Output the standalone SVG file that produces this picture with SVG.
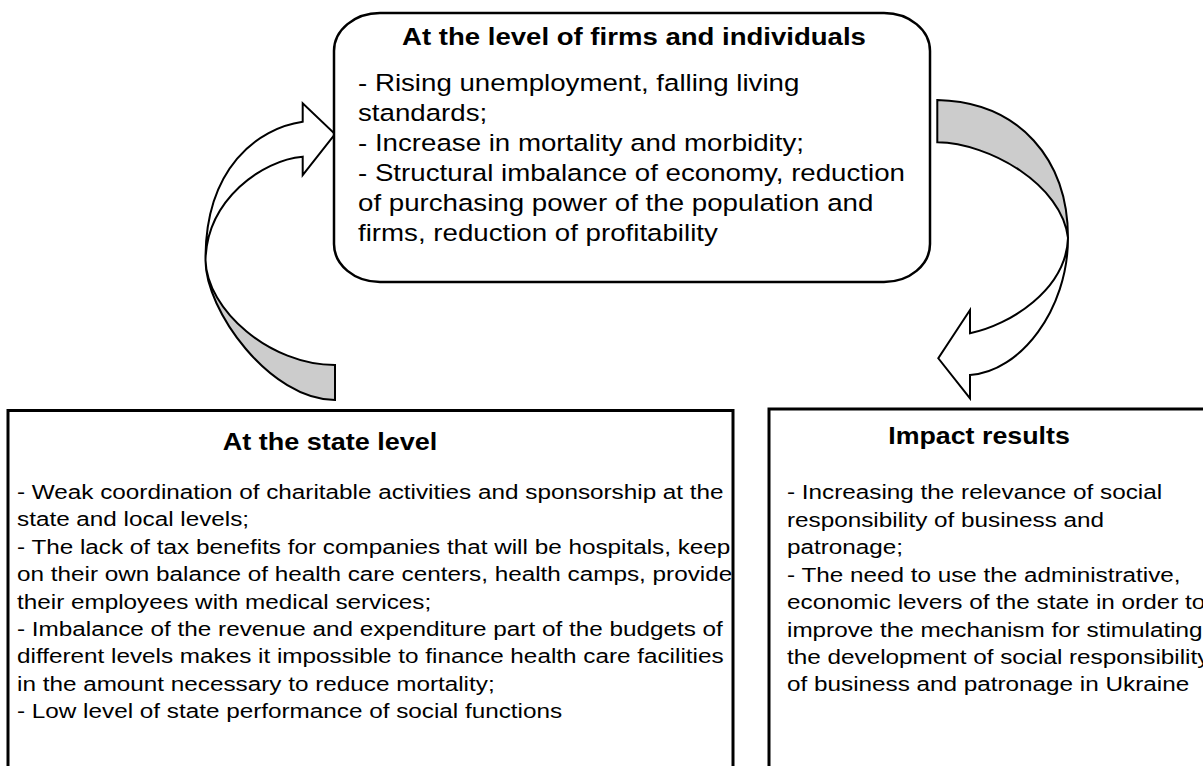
<svg xmlns="http://www.w3.org/2000/svg" width="1203" height="766" viewBox="0 0 1203 766">
<style>
.box{fill:#fff;stroke:#000;}
.t{font-family:"Liberation Sans",Arial,sans-serif;fill:#000;}
.b{font-weight:bold;}
.aw{fill:#fff;stroke:#000;stroke-width:2;stroke-linejoin:miter;}
.ag{fill:#cccccc;stroke:#000;stroke-width:2;stroke-linejoin:miter;}
</style>
<rect width="1203" height="766" fill="#fff"/>
<g id="connectors">
  <g id="arrow-state-to-firms">
    <path class="ag" d="M205.5,260 C205,310 270,400 335,400 L335,365 C270,365 206.7,310 205.5,260 Z"/>
    <path class="aw" d="M302.7,121.7 C258,128 205,168 205.5,260 C207,200 262,160 302.7,156.7 L302.7,175 L335,134 L302.7,103.3 Z"/>
  </g>
  <g id="arrow-firms-to-impact">
    <path class="ag" d="M937.3,100 C1020,102 1068,160 1068,238 C1062,185 990,143 937.3,142.3 Z"/>
    <path class="aw" d="M1068,238 C1068,310 1020,372 970,375 L970,398.3 L938.3,358.3 L970,310 L970,333.3 C1010,325 1066,290 1068,238 Z"/>
  </g>
</g>
<g id="node-firms">
  <rect class="box" x="334" y="13" width="596" height="269" rx="46" ry="38" stroke-width="2.5"/>
  <g transform="translate(634,45) scale(1.125,1)"><text class="t b" x="0" y="0" font-size="24.5" text-anchor="middle">At the level of firms and individuals</text></g>
  <g transform="translate(358,0) scale(1.13,1)">
    <text class="t" font-size="24.5">
      <tspan x="0" y="91.5">- Rising unemployment, falling living</tspan>
      <tspan x="0" y="121.5">standards;</tspan>
      <tspan x="0" y="151.5">- Increase in mortality and morbidity;</tspan>
      <tspan x="0" y="181.5">- Structural imbalance of economy, reduction</tspan>
      <tspan x="0" y="211.5">of purchasing power of the population and</tspan>
      <tspan x="0" y="241.5">firms, reduction of profitability</tspan>
    </text>
  </g>
</g>
<g id="node-state">
  <rect class="box" x="8" y="410.5" width="725" height="380" stroke-width="3"/>
  <g transform="translate(330,450) scale(1.15,1)"><text class="t b" x="0" y="0" font-size="23.5" text-anchor="middle">At the state level</text></g>
  <g transform="translate(17,0) scale(1.157,1)">
    <text class="t" font-size="21">
      <tspan x="0" y="499">- Weak coordination of charitable activities and sponsorship at the</tspan>
      <tspan x="0" y="526.4">state and local levels;</tspan>
      <tspan x="0" y="553.8">- The lack of tax benefits for companies that will be hospitals, keep</tspan>
      <tspan x="0" y="581.2">on their own balance of health care centers, health camps, provide</tspan>
      <tspan x="0" y="608.6">their employees with medical services;</tspan>
      <tspan x="0" y="636">- Imbalance of the revenue and expenditure part of the budgets of</tspan>
      <tspan x="0" y="663.4">different levels makes it impossible to finance health care facilities</tspan>
      <tspan x="0" y="690.8">in the amount necessary to reduce mortality;</tspan>
      <tspan x="0" y="718.2">- Low level of state performance of social functions</tspan>
    </text>
  </g>
</g>
<g id="node-impact">
  <rect class="box" x="769" y="409" width="460" height="380" stroke-width="3"/>
  <g transform="translate(979,444) scale(1.14,1)"><text class="t b" x="0" y="0" font-size="23.5" text-anchor="middle">Impact results</text></g>
  <g transform="translate(787,0) scale(1.157,1)">
    <text class="t" font-size="21">
      <tspan x="0" y="499.5">- Increasing the relevance of social</tspan>
      <tspan x="0" y="526.9">responsibility of business and</tspan>
      <tspan x="0" y="554.3">patronage;</tspan>
      <tspan x="0" y="581.7">- The need to use the administrative,</tspan>
      <tspan x="0" y="609.1">economic levers of the state in order to</tspan>
      <tspan x="0" y="636.5">improve the mechanism for stimulating</tspan>
      <tspan x="0" y="663.9">the development of social responsibility</tspan>
      <tspan x="0" y="691.3">of business and patronage in Ukraine</tspan>
    </text>
  </g>
</g>
</svg>
